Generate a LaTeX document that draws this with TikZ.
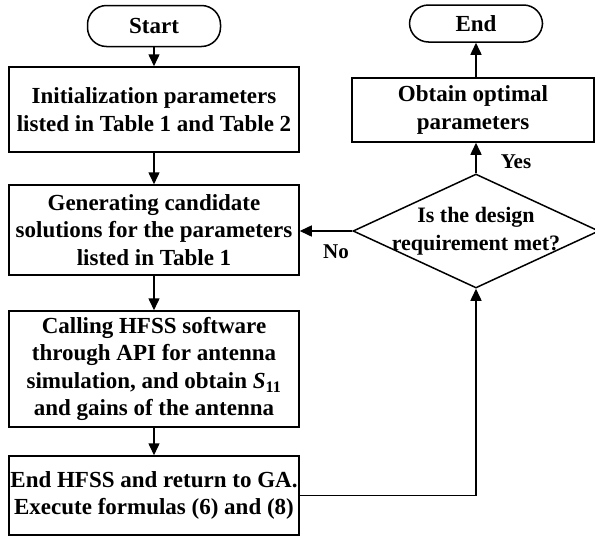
\documentclass[tikz,border=0pt]{standalone}
\usepackage{fontspec}
\setmainfont{Liberation Serif}
\usetikzlibrary{shapes.geometric,arrows.meta}

\begin{document}
\begin{tikzpicture}[x=1pt,y=-1pt,
  every node/.style={font=\fontsize{23}{27.5}\selectfont\bfseries},
  box/.style={draw,line width=1.5pt,align=center,inner sep=0pt,minimum width=290pt},
  term/.style={draw,line width=1.5pt,rounded corners=19pt,inner sep=0pt,minimum width=133pt},
  decision/.style={draw,diamond,line width=1.5pt,inner sep=0pt,minimum width=246pt,minimum height=114pt},
  arr/.style={-{Triangle[length=12pt,width=11pt]},line width=1.5pt}]
\useasboundingbox (0,0) rectangle (595,536);

% left column
\node[term,minimum height=41pt] (start) at (154,26) {Start};
\node[box,minimum height=85pt] (init) at (154,109.5) {Initialization parameters\\listed in Table 1 and Table 2};
\node[box,minimum height=90pt] (gen) at (154,230) {Generating candidate\\solutions for the parameters\\listed in Table 1};
\node[box,minimum height=116pt] (call) at (154,369) {Calling HFSS software\\through API for antenna\\simulation, and obtain \textit{S}\textsubscript{11}\\and gains of the antenna};
\node[box,minimum height=79pt] (hfss) at (154,495.5) {End HFSS and return to GA.\\Execute formulas (6) and (8)};

% right column
\node[term,minimum height=37pt] (end) at (476,23.5) {End};
\node[box,minimum width=242pt,minimum height=64pt] (opt) at (473,110) {Obtain optimal\\parameters};
\node[decision] (dec) at (476,231) {};
\node[align=center,font=\fontsize{22}{28}\selectfont\bfseries] (q) at (dec) {Is the design\\requirement met?};

\node[font=\fontsize{21}{25}\selectfont\bfseries] (yes) at (516,162) {Yes};
\node[font=\fontsize{21}{25}\selectfont\bfseries] (no) at (336,252) {No};

% arrows
\draw[arr] (start) -- (init);
\draw[arr] (init) -- (gen);
\draw[arr] (gen) -- (call);
\draw[arr] (call) -- (hfss);
\draw[arr] (hfss.east) -| (dec.south);
\draw[arr] (dec.west) -- (dec.west -| gen.east);
\draw[arr] (dec.north) -- (dec.north |- opt.south);
\draw[arr] (end.south |- opt.north) -- (end.south);
\end{tikzpicture}
\end{document}
